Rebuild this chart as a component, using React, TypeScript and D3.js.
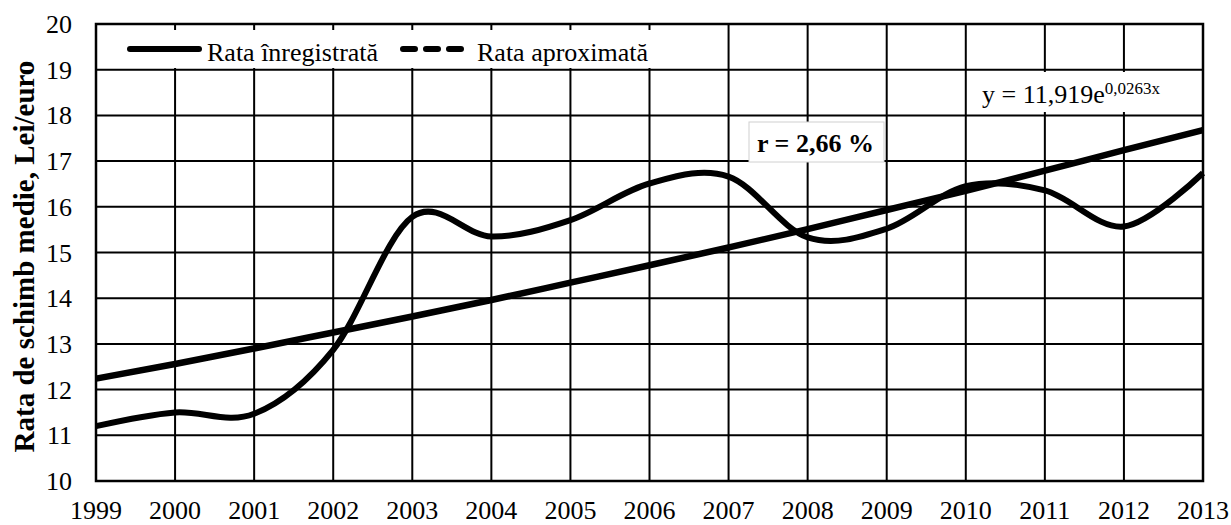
import React, { useRef, useEffect } from "react";
import * as d3 from "d3";

const years = [1999, 2000, 2001, 2002, 2003, 2004, 2005, 2006, 2007, 2008, 2009, 2010, 2011, 2012, 2013];
const recorded = [11.2, 11.5, 11.47, 12.87, 15.78, 15.35, 15.71, 16.51, 16.66, 15.33, 15.52, 16.45, 16.36, 15.57, 16.74];
const approx = [12.24, 12.56, 12.9, 13.25, 13.6, 13.96, 14.34, 14.72, 15.11, 15.51, 15.93, 16.35, 16.79, 17.24, 17.68];
const yTicks = [10, 11, 12, 13, 14, 15, 16, 17, 18, 19, 20];
const legendLabels = ["Rata înregistrată", "Rata aproximată"];
const yTitle = "Rata de schimb medie, Lei/euro";

const font = "Liberation Serif";

const App = () => {
  const canvas = useRef<SVGSVGElement>(null);

  const margin = { top: 24, right: 28, bottom: 44, left: 96 };
  const width = 1231 - margin.left - margin.right;
  const height = 525 - margin.top - margin.bottom;

  useEffect(() => {
    const svg = d3.select(canvas.current);
    svg.selectAll("*").remove();

    const x = d3.scaleLinear().domain([1999, 2013]).range([0, width]);
    const y = d3.scaleLinear().domain([10, 20]).range([height, 0]);

    const g = svg.append("g").attr("transform", "translate(" + margin.left + "," + margin.top + ")")
      .attr("font-family", font);

    // grid
    g.selectAll(".vgrid").data(years).enter().append("line")
      .attr("x1", d => x(d)).attr("x2", d => x(d))
      .attr("y1", 0).attr("y2", height)
      .attr("stroke", "#000").attr("stroke-width", 2);
    g.selectAll(".hgrid").data(yTicks).enter().append("line")
      .attr("x1", 0).attr("x2", width)
      .attr("y1", d => y(d)).attr("y2", d => y(d))
      .attr("stroke", "#000").attr("stroke-width", 2);

    // tick labels
    g.selectAll(".xlab").data(years).enter().append("text")
      .attr("x", d => x(d)).attr("y", height + 38)
      .attr("text-anchor", "middle")
      .attr("font-size", 26)
      .text(d => d);
    g.selectAll(".ylab").data(yTicks).enter().append("text")
      .attr("x", -24).attr("y", d => y(d) + 9)
      .attr("text-anchor", "end")
      .attr("font-size", 26)
      .text(d => d);

    // axis title
    svg.append("text")
      .attr("transform", "translate(34," + (margin.top + height / 2 + 4) + ") rotate(-90)")
      .attr("text-anchor", "middle")
      .attr("font-family", font).attr("font-size", 29).attr("font-weight", "bold")
      .text(yTitle);

    // legend box
    g.append("rect").attr("x", 12).attr("y", 6).attr("width", 580).attr("height", 38).attr("fill", "#fff");
    g.append("line").attr("x1", 34).attr("x2", 103).attr("y1", 25).attr("y2", 25)
      .attr("stroke", "#000").attr("stroke-width", 6).attr("stroke-linecap", "round");
    g.append("text").attr("x", 111).attr("y", 37)
      .attr("font-size", 26).text(legendLabels[0]);
    g.append("line").attr("x1", 307).attr("x2", 365).attr("y1", 25).attr("y2", 25)
      .attr("stroke", "#000").attr("stroke-width", 6).attr("stroke-linecap", "round")
      .attr("stroke-dasharray", "12,11");
    g.append("text").attr("x", 381).attr("y", 37)
      .attr("font-size", 26).text(legendLabels[1]);

    // equation box
    g.append("rect").attr("x", 880).attr("y", 48).attr("width", 196).attr("height", 40).attr("fill", "#fff");
    const eq = g.append("text").attr("x", 886).attr("y", 79).attr("font-size", 26);
    eq.append("tspan").text("y = 11,919e");
    eq.append("tspan").attr("dy", -9).attr("font-size", 17).text("0,0263x");

    // r box
    g.append("rect").attr("x", 653).attr("y", 98).attr("width", 135).attr("height", 40)
      .attr("fill", "#fff").attr("stroke", "#d0d0d0").attr("stroke-width", 1);
    g.append("text").attr("x", 661).attr("y", 128)
      .attr("font-size", 26).attr("font-weight", "bold")
      .text("r = 2,66 %");

    // series
    const smooth = d3.line<number>()
      .x((d, i) => x(years[i]))
      .y(d => y(d))
      .curve(d3.curveCardinal.tension(0));
    const straight = d3.line<number>()
      .x((d, i) => x(years[i]))
      .y(d => y(d))
      .curve(d3.curveMonotoneX);

    g.append("path").datum(approx)
      .attr("d", straight).attr("fill", "none")
      .attr("stroke", "#000").attr("stroke-width", 6.5);
    g.append("path").datum(recorded)
      .attr("d", smooth).attr("fill", "none")
      .attr("stroke", "#000").attr("stroke-width", 6);

    // frame
    g.append("rect").attr("x", 0).attr("y", 0).attr("width", width).attr("height", height)
      .attr("fill", "none").attr("stroke", "#000").attr("stroke-width", 2.5);
  });

  return (
    <svg ref={canvas} width={1231} height={525}
      style={{ position: "absolute", left: 0, top: 0, background: "#fff" }} />
  );
};

export default App;
